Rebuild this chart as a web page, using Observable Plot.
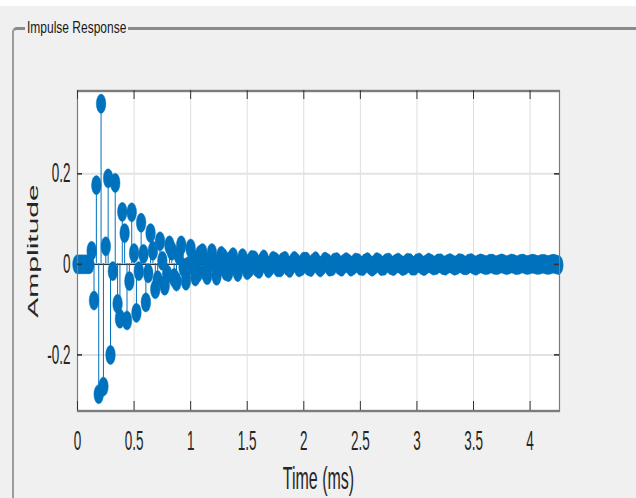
<!DOCTYPE html>
<html>
<head>
<meta charset="utf-8">
<script src="https://cdn.jsdelivr.net/npm/d3@7"></script>
<script src="https://cdn.jsdelivr.net/npm/@observablehq/plot@0.6"></script>
<style>
  html, body { margin: 0; padding: 0; }
  body {
    width: 636px; height: 498px; position: relative; overflow: hidden;
    background: #f0f0f0;
    font-family: "Liberation Sans", Arial, Helvetica, sans-serif;
  }
  #band { position: absolute; left: 0; top: 0; width: 636px; height: 6px; background: #ffffff; }
  #panel {
    position: absolute; left: 12px; top: 27px; width: 700px; height: 520px;
    border-top: 3px solid #8a8a8a; border-left: 2px solid #9c9c9c;
    border-top-left-radius: 5px;
  }
  #panel-title {
    position: absolute; left: 25px; top: 21px; padding: 0 2px;
    background: #f0f0f0; color: #1a1a1a;
    font-size: 12px; line-height: 14px;
    transform: scaleY(1.35); transform-origin: left center;
  }
  #chart { position: absolute; left: 0; top: 0; }
</style>
</head>
<body>
<div id="band"></div>
<div id="panel"></div>
<div id="panel-title">Impulse Response</div>
<div id="chart"></div>
<script>
// Filter impulse response, one sample every 1/48 ms (48 kHz)
const sampleRateKHz = 48;
const amplitude = [
  0, 0, 0, 0, 0, 0, 0.03, -0.08, 0.175, -0.287,
  0.355, -0.27, 0.04, 0.19, -0.2, -0.015, 0.18, -0.087, -0.12, 0.116,
  0.069, -0.124, -0.037, 0.115, 0.025, -0.107, -0.015, 0.092, 0.023, -0.084,
  -0.02, 0.069, 0.03, -0.055, -0.035, 0.051, 0.008, -0.047, -0.022, 0.042,
  0.030, -0.030, -0.038, 0.020, 0.042, -0.007, -0.036, -0.004, 0.035, 0.013,
  -0.027, -0.019, 0.021, 0.025, -0.014, -0.024, 0.006, 0.025, 0.002, -0.025,
  -0.007, 0.019, 0.013, -0.015, -0.017, 0.009, 0.016, -0.004, -0.017, -0.001,
  0.014, 0.004, -0.013, -0.008, 0.010, 0.009, -0.006, -0.010, 0.003, 0.011,
  0.000, -0.009, -0.003, 0.008, 0.005, -0.007, -0.007, 0.005, 0.008, -0.003,
  -0.008, 0.000, 0.008, 0.002, -0.007, -0.004, 0.006, 0.006, -0.004, -0.006,
  0.002, 0.007, -0.001, -0.007, -0.001, 0.006, 0.003, -0.005, -0.004, 0.004,
  0.005, -0.002, -0.005, 0.001, 0.005, 0.001, -0.005, -0.002, 0.004, 0.003,
  -0.003, -0.004, 0.002, 0.005, -0.001, -0.005, -0.001, 0.005, 0.002, -0.004,
  -0.003, 0.003, 0.004, -0.002, -0.004, 0.001, 0.004, 0.000, -0.004, -0.0015,
  0.0035, 0.0025, -0.003, -0.003, 0.002, 0.004, -0.001, -0.004, 0.000, 0.004,
  0.001, -0.0026, -0.0018, 0.002, 0.0024, -0.0015, -0.0028, 0.0007, 0.003, 0.000,
  -0.003, -0.001, 0.0027, 0.0017, -0.0022, -0.0023, 0.0016, 0.0027, -0.0008, -0.003,
  0.000, 0.002, 0.0006, -0.0018, -0.001, 0.0015, 0.0015, -0.0011, -0.0018, 0.0006,
  0.002, 0.000, -0.002, -0.0005, 0.0019, 0.001, -0.0016, -0.0014, 0.0012, 0.0018,
  -0.0005, -0.0015, 0.0001, 0.0015, 0.0003, -0.0014, -0.0007, 0.0012, 0.001, -0.0009,
  -0.0013, 0.0006, 0.0015, -0.0002, -0.0015
];
const xTicks = [0, 0.5, 1, 1.5, 2, 2.5, 3, 3.5, 4];
const yTicks = [-0.2, 0, 0.2];
const xDomain = [0, 4.26];
const yDomain = [-0.324, 0.383];

const samples = amplitude.map((v, i) => ({t: i / sampleRateKHz, v}));

// Drawn at half height, then stretched vertically to the page height
const W = 636, H = 249;
const mL = 77, mR = 77, mT = 45, mB = 44;
const innerW = W - mL - mR, innerH = H - mT - mB;
const blue = "#0072BD";
const ink = "#262626";
const tickLen = 4.5;

const chart = Plot.plot({
  width: W,
  height: H,
  marginLeft: mL, marginRight: mR, marginTop: mT, marginBottom: mB,
  style: {background: "transparent", color: ink, fontFamily: "'Liberation Sans', Arial, sans-serif", fontSize: "13.5px"},
  x: {domain: xDomain},
  y: {domain: yDomain},
  marks: [
    Plot.frame({fill: "white", stroke: null}),
    Plot.ruleX(xTicks, {stroke: "#dedede", strokeWidth: 1}),
    Plot.ruleY(yTicks, {stroke: "#e2e2e2", strokeWidth: 1}),
    Plot.ruleY([0], {stroke: "#303030", strokeWidth: 0.6}),
    Plot.ruleX(samples, {x: "t", y1: 0, y2: "v", stroke: blue, strokeWidth: 1}),
    Plot.dot(samples, {x: "t", y: "v", r: 4.8, fill: blue, stroke: blue, strokeWidth: 0.3}),
    Plot.frame({stroke: "#7c7c7c", strokeWidth: 1.2}),
    // inward tick marks on all four sides
    Plot.ruleX(xTicks, {stroke: "#333", strokeWidth: 1, insetTop: innerH - tickLen}),
    Plot.ruleX(xTicks, {stroke: "#333", strokeWidth: 1, insetBottom: innerH - tickLen}),
    Plot.ruleY(yTicks, {stroke: "#333", strokeWidth: 0.8, insetRight: innerW - 5}),
    Plot.ruleY(yTicks, {stroke: "#333", strokeWidth: 0.8, insetLeft: innerW - 5}),
    Plot.axisX(xTicks, {tickSize: 0, tickPadding: 10, label: null, tickFormat: d => String(d), fill: ink}),
    Plot.axisY(yTicks, {tickSize: 0, tickPadding: 7, label: null, tickFormat: d => String(d), fill: ink}),
    Plot.text(["Time (ms)"], {frameAnchor: "bottom", lineAnchor: "middle", textAnchor: "middle", dy: 34, fontSize: 16, fill: ink}),
    Plot.text(["Amplitude"], {frameAnchor: "left", lineAnchor: "middle", textAnchor: "middle", dx: -44, rotate: -90, fontSize: 15, fill: ink})
  ]
});

chart.setAttribute("preserveAspectRatio", "none");
chart.setAttribute("width", 636);
chart.setAttribute("height", 498);
chart.style.width = "636px";
chart.style.height = "498px";
chart.style.maxWidth = "none";
document.getElementById("chart").appendChild(chart);
</script>
</body>
</html>
